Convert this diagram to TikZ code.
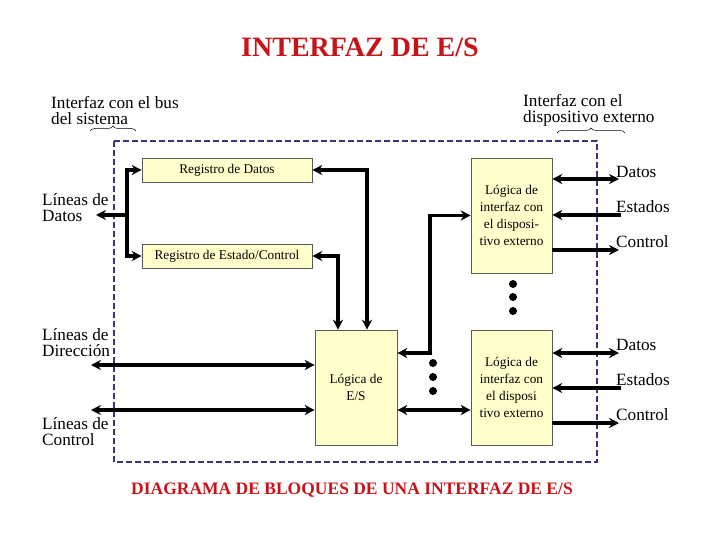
\documentclass[tikz,border=0pt]{standalone}
\usepackage{fontspec}
\setmainfont{Liberation Serif}
\usetikzlibrary{arrows.meta,positioning,decorations.pathreplacing}
\definecolor{iored}{RGB}{200,20,25}
\definecolor{iofill}{RGB}{255,255,204}
\definecolor{iodash}{RGB}{55,55,120}

\begin{document}
\begin{tikzpicture}[
    x=1pt, y=-1pt,
    block/.style={draw=black!65, line width=0.6pt, fill=iofill, inner sep=0pt, align=center, font=\fontsize{13.3}{17}\selectfont},
    lbl/.style={inner sep=0pt, align=left, font=\fontsize{17.2}{15.5}\selectfont},
    bus/.style={line width=3.5pt},
    >={Stealth[length=10pt,width=10pt]}
]
\useasboundingbox (0,0) rectangle (720,540);

% titulos
\node[text=iored, font=\fontsize{28}{28}\selectfont\bfseries] (title) at (360,47) {INTERFAZ DE E/S};
\node[text=iored, font=\fontsize{17.5}{18}\selectfont\bfseries] (caption) at (352,490) {DIAGRAMA DE BLOQUES DE UNA INTERFAZ DE E/S};

% marco de la interfaz
\draw[iodash, line width=1.6pt, dash pattern=on 6pt off 3pt] (114,141) rectangle (597,462);

% bloques
\node[block, minimum width=170, minimum height=24] (regdat) at (227,170) {Registro de Datos};
\node[block, minimum width=170, minimum height=24] (regest) at (227,256) {Registro de Estado/Control};
\node[block, minimum width=82, minimum height=115] (loges) at (356,387.5) {Lógica de\\E/S};
\node[block, minimum width=81, minimum height=115] (disp1) at (511.5,215.5) {Lógica de\\interfaz con\\el disposi-\\tivo externo};
\node[block, minimum width=81, minimum height=115] (disp2) at (511.5,387.5) {Lógica de\\interfaz con\\el disposi\\tivo externo};

% etiquetas
\node[lbl, anchor=west] (busif) at (51,110.5) {Interfaz con el bus\\del sistema};
\node[lbl, anchor=west] (devif) at (523,110.5) {Interfaz con el\\dispositivo externo};
\node[lbl, anchor=west] (lindat) at (42,207.5) {Líneas de\\Datos};
\node[lbl, anchor=west] (lindir) at (42,342.5) {Líneas de\\Dirección};
\node[lbl, anchor=west] (linctl) at (42,431.5) {Líneas de\\Control};
\node[lbl, anchor=west] (datos1) at (616,172) {Datos};
\node[lbl, anchor=west] (estados1) at (616,207) {Estados};
\node[lbl, anchor=west] (control1) at (616,242) {Control};
\node[lbl, anchor=west] (datos2) at (616,345) {Datos};
\node[lbl, anchor=west] (estados2) at (616,380) {Estados};
\node[lbl, anchor=west] (control2) at (616,415) {Control};

% llaves
\draw[decorate, decoration={brace, amplitude=5pt}, line width=0.5pt] (90,131) -- (136,131);
\draw[decorate, decoration={brace, amplitude=5pt}, line width=0.5pt] (557,133) -- (625,133);

% extremos libres
\coordinate (datL) at (96,215);
\coordinate (busx) at (127,215);
\coordinate (dirL) at (91,365);
\coordinate (ctlL) at (91,410);
\coordinate (turn) at (430,353);
\coordinate (datR1) at (619,179);
\coordinate (estR1) at (621,215);
\coordinate (ctlR1) at (619,250);
\coordinate (datR2) at (619,353);
\coordinate (estR2) at (621,388);
\coordinate (ctlR2) at (619,423);

% conexiones
\draw[bus, ->] (busx) -- (datL);
\draw[bus, <->] (regdat.west) -| (busx) |- (regest.west);
\draw[bus, <->] (regdat.east) -| ([xshift=11pt]loges.north);
\draw[bus, <->] (regest.east) -| ([xshift=-18pt]loges.north);
\draw[bus, <->] (dirL) -- (dirL -| loges.west);
\draw[bus, <->] (ctlL) -- (ctlL -| loges.west);
\draw[bus, <->] (turn -| loges.east) -- (turn) |- (disp1.west);
\draw[bus, <->] ([yshift=-22.5pt]loges.east) -- ([yshift=-22.5pt]disp2.west);

\draw[bus, <->] (disp1.east |- datR1) -- (datR1);
\draw[bus, ->] (estR1) -- (disp1.east |- estR1);
\draw[bus, ->] (disp1.east |- ctlR1) -- (ctlR1);
\draw[bus, <->] (disp2.east |- datR2) -- (datR2);
\draw[bus, ->] (estR2) -- (disp2.east |- estR2);
\draw[bus, ->] (disp2.east |- ctlR2) -- (ctlR2);

% puntos
\foreach \y in {363,377,391} \fill (433,\y) circle (4pt);
\foreach \y in {284,297,311} \fill (513,\y) circle (4pt);
\end{tikzpicture}
\end{document}
